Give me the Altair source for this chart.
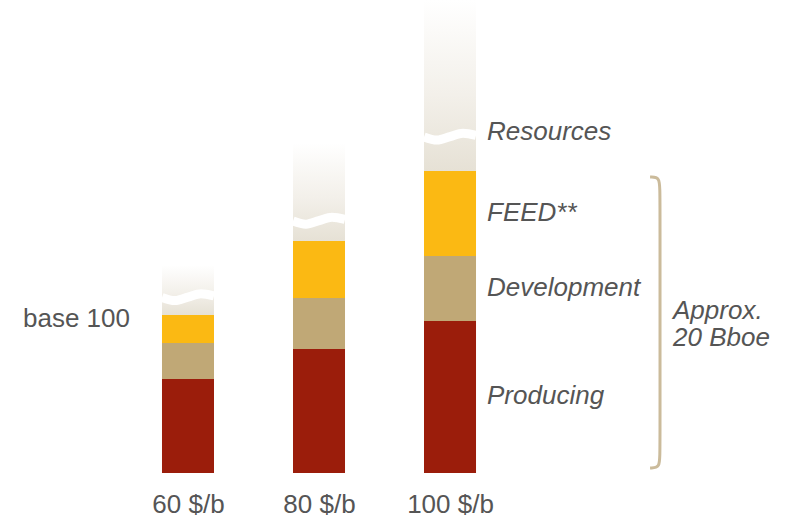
import altair as alt
import pandas as pd

# ---- data ----
categories = ["60 $/b", "80 $/b", "100 $/b"]
positions = [1, 2, 3]
producing = [59.5, 78.5, 96.2]
development = [22.8, 32.3, 41.1]
feed = [17.7, 36.1, 53.8]
resources = [31.6, 62.0, 108.3]
wave_level = [111.1, 159.5, 212.7]

segment_names = ["Producing", "Development", "FEED**"]
segment_colors = ["#9b1d0b", "#c0a876", "#fbb913"]
resource_label = "Resources"
base_label = "base 100"
bracket_label = "Approx.\n20 Bboe"

# decorative wave profile (break symbol in the resources bars)
wave_t = [0.0, 0.25, 0.5, 0.75, 1.0]
wave_shape = [0.0, -2.0, 0.2, 2.4, 1.0]

HW = 0.1985           # half bar width in x units
BRACKET_X = 4.603     # bracket position in x units
BRACKET_CURL = 0.076

TEXT = "#555555"
FONT = "Liberation Sans"

# ---- tables built from the arrays ----
bar_rows, res_rows, wave_rows = [], [], []
totals = []
for i, cat in enumerate(categories):
    p = positions[i]
    b = 0.0
    for name, vals in zip(segment_names, [producing, development, feed]):
        bar_rows.append(dict(cat=cat, pos=p, xl=p - HW, xr=p + HW,
                             segment=name, y0=b, y1=b + vals[i], ymid=b + vals[i] / 2))
        b += vals[i]
    totals.append(b)
    res_rows.append(dict(cat=cat, xl=p - HW, xr=p + HW, y0=b, y1=b + resources[i]))
    for t, s in zip(wave_t, wave_shape):
        wave_rows.append(dict(cat=cat, x=p - HW + 2 * HW * t, y=wave_level[i] + s))

bar_df = pd.DataFrame(bar_rows)
res_df = pd.DataFrame(res_rows)
wave_df = pd.DataFrame(wave_rows)

last = categories[-1]
lab_df = bar_df[bar_df["cat"] == last][["pos", "segment", "ymid"]]
res_lab_df = pd.DataFrame([dict(pos=positions[-1], y=wave_level[-1], label=resource_label)])
base_df = pd.DataFrame([dict(pos=positions[0], y=totals[0], label=base_label)])

top = totals[-1] - 3.8
bot = 3.2
bracket_df = pd.DataFrame([
    dict(o=0, x=BRACKET_X - BRACKET_CURL, y=top),
    dict(o=1, x=BRACKET_X, y=top),
    dict(o=2, x=BRACKET_X, y=top - 10),
    dict(o=3, x=BRACKET_X, y=bot + 10),
    dict(o=4, x=BRACKET_X, y=bot),
    dict(o=5, x=BRACKET_X - BRACKET_CURL, y=bot),
])
approx_df = pd.DataFrame([dict(x=BRACKET_X, y=(top + bot) / 2, label=bracket_label)])

# ---- scales / axes ----
xs = alt.Scale(domain=[-0.435, 5.557], nice=False, zero=False)
ys = alt.Scale(domain=[0, 299.37], nice=False, zero=False)
label_expr = " : ".join(
    f"datum.value == {p} ? '{c}'" for p, c in zip(positions[:-1], categories[:-1])
) + f" : '{categories[-1]}'"
x_axis = alt.Axis(values=positions, labelExpr=label_expr, domain=False, ticks=False,
                  tickSize=0, grid=False, title=None, labelFontSize=26,
                  labelColor=TEXT, labelFont=FONT, labelPadding=18)


def X(f):
    return alt.X(f, scale=xs, axis=x_axis)


def Y(f):
    return alt.Y(f, scale=ys, axis=None)


bars = alt.Chart(bar_df).mark_bar().encode(
    x=X("xl:Q"), x2="xr", y=Y("y0:Q"), y2="y1",
    color=alt.Color("segment:N", scale=alt.Scale(domain=segment_names, range=segment_colors),
                    legend=None),
)

res = alt.Chart(res_df).mark_bar(
    color=alt.Gradient(
        gradient="linear",
        stops=[alt.GradientStop(color="#ffffff", offset=0),
               alt.GradientStop(color="#f3f0ea", offset=0.55),
               alt.GradientStop(color="#e6e1d5", offset=1)],
        x1=0, x2=0, y1=0, y2=1,
    )
).encode(x=X("xl:Q"), x2="xr", y=Y("y0:Q"), y2="y1")

wave = alt.Chart(wave_df).mark_line(
    color="white", strokeWidth=9, interpolate="monotone", strokeCap="butt"
).encode(x=X("x:Q"), y=Y("y:Q"), detail="cat:N")

seg_text = alt.Chart(lab_df).mark_text(
    align="left", baseline="middle", dx=37, dy=-1, fontSize=26, fontStyle="italic",
    font=FONT, color=TEXT,
).encode(x=X("pos:Q"), y=Y("ymid:Q"), text="segment:N")

res_text = alt.Chart(res_lab_df).mark_text(
    align="left", baseline="middle", dx=37, dy=-5, fontSize=26, fontStyle="italic",
    font=FONT, color=TEXT,
).encode(x=X("pos:Q"), y=Y("y:Q"), text="label:N")

base_text = alt.Chart(base_df).mark_text(
    align="right", baseline="middle", dx=-58, dy=4, fontSize=26,
    font=FONT, color=TEXT,
).encode(x=X("pos:Q"), y=Y("y:Q"), text="label:N")

bracket = alt.Chart(bracket_df).mark_line(
    color="#cbbb9b", strokeWidth=3, interpolate="basis"
).encode(x=X("x:Q"), y=Y("y:Q"), order="o:Q")

approx = alt.Chart(approx_df).mark_text(
    align="left", baseline="middle", dx=13, dy=-12, fontSize=26, fontStyle="italic",
    font=FONT, color=TEXT, lineBreak="\n", lineHeight=27,
).encode(x=X("x:Q"), y=Y("y:Q"), text="label:N")

chart = alt.layer(bars, res, wave, seg_text, res_text, base_text, bracket, approx).properties(
    width=785, height=473,
    padding={"left": 0, "right": 0, "top": 0, "bottom": 49},
    autosize=alt.AutoSizeParams(type="none"),
    background="white",
).configure_view(stroke=None)

chart.save("out.html", embed_options={"renderer": "svg", "actions": False})
